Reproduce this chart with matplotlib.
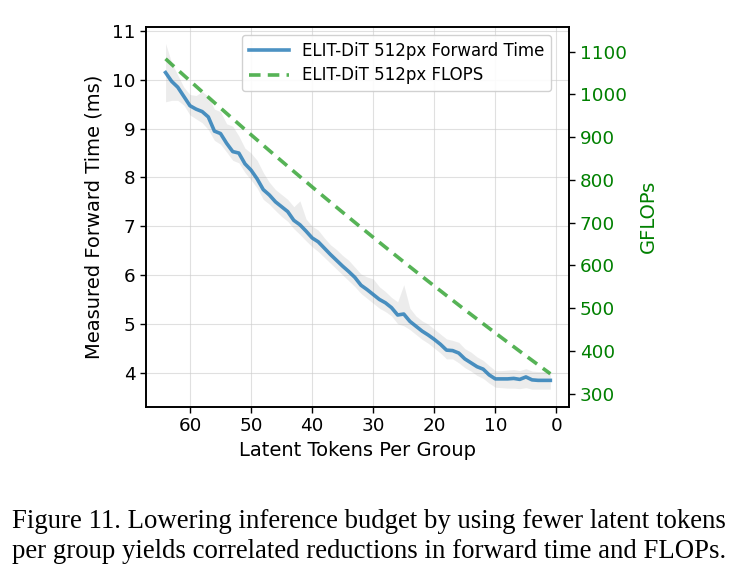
import numpy as np
import matplotlib
matplotlib.use("Agg")
import matplotlib.pyplot as plt

tokens = list(range(64, 0, -1))

forward_time = [10.15, 9.97, 9.85, 9.66, 9.47, 9.40, 9.35, 9.24, 8.95, 8.90,
                8.70, 8.53, 8.50, 8.28, 8.15, 7.97, 7.75, 7.64, 7.50, 7.40,
                7.30, 7.12, 7.03, 6.90, 6.76, 6.68, 6.55, 6.42, 6.30, 6.18,
                6.07, 5.95, 5.79, 5.70, 5.60, 5.50, 5.43, 5.33, 5.18, 5.20,
                5.05, 4.95, 4.85, 4.77, 4.68, 4.58, 4.46, 4.45, 4.40, 4.28,
                4.20, 4.12, 4.07, 3.95, 3.87, 3.87, 3.87, 3.88, 3.86, 3.91,
                3.85, 3.84, 3.84, 3.84]

time_upper = [10.75, 10.35, 10.10, 9.85, 9.70, 9.68, 9.76, 9.66, 9.40, 9.35,
              9.10, 9.05, 8.85, 8.60, 8.50, 8.35, 8.10, 7.90, 7.75, 7.65,
              7.55, 7.40, 7.52, 7.15, 7.00, 6.92, 6.76, 6.62, 6.52, 6.40,
              6.30, 6.16, 6.02, 5.96, 5.92, 5.76, 5.66, 5.54, 5.45, 5.80,
              5.32, 5.16, 5.06, 4.99, 4.89, 4.79, 4.69, 4.66, 4.62, 4.49,
              4.42, 4.32, 4.25, 4.14, 4.04, 4.04, 4.05, 4.06, 4.04, 4.08,
              4.03, 4.02, 4.02, 4.02]

time_lower = [9.55, 9.58, 9.58, 9.48, 9.28, 9.20, 9.12, 8.98, 8.76, 8.68,
              8.52, 8.35, 8.30, 8.10, 7.95, 7.78, 7.55, 7.45, 7.32, 7.20,
              7.10, 6.95, 6.83, 6.70, 6.58, 6.48, 6.36, 6.24, 6.12, 6.00,
              5.88, 5.76, 5.62, 5.52, 5.42, 5.32, 5.25, 5.16, 5.00, 4.96,
              4.88, 4.78, 4.68, 4.60, 4.50, 4.40, 4.28, 4.28, 4.20, 4.10,
              4.03, 3.94, 3.88, 3.78, 3.70, 3.69, 3.68, 3.68, 3.67, 3.69,
              3.66, 3.66, 3.66, 3.66]

gflops = [1083.0, 1070.0, 1057.1, 1044.3, 1031.5, 1018.7, 1006.0, 993.3, 980.6, 968.0,
          955.4, 942.9, 930.4, 917.9, 905.5, 893.2, 880.8, 868.5, 856.3, 844.1,
          831.9, 819.8, 807.7, 795.7, 783.6, 771.7, 759.7, 747.9, 736.0, 724.2,
          712.4, 700.7, 689.0, 677.4, 665.8, 654.2, 642.7, 631.2, 619.8, 608.4,
          597.0, 585.7, 574.4, 563.2, 552.0, 540.9, 529.7, 518.7, 507.6, 496.6,
          485.7, 474.8, 463.9, 453.1, 442.3, 431.5, 420.8, 410.2, 399.5, 388.9,
          378.4, 367.9, 357.4, 347.0]

left_ticks = [4, 5, 6, 7, 8, 9, 10, 11]
right_ticks = [300, 400, 500, 600, 700, 800, 900, 1000, 1100]
x_ticks = [60, 50, 40, 30, 20, 10, 0]

caption_lines = [
    "Figure 11. Lowering inference budget by using fewer latent tokens",
    "per group yields correlated reductions in forward time and FLOPs.",
]

fig = plt.figure(figsize=(7.4, 5.82), dpi=100)
ax = fig.add_axes([0.1973, 0.3012, 0.5720, 0.6529])
ax2 = ax.twinx()

ax.fill_between(tokens, time_lower, time_upper, color="#9a9a9a", alpha=0.18,
                linewidth=0)
l1, = ax.plot(tokens, forward_time, color="#1f77b4", alpha=0.8, lw=2.6,
              label="ELIT-DiT 512px Forward Time")
l2, = ax2.plot(tokens, gflops, color="#2ca02c", alpha=0.8, lw=2.6,
               linestyle=(0, (3.2, 2.0)), label="ELIT-DiT 512px FLOPS")

ax.set_xlim(67.2, -2.1)
ax.set_ylim(3.30, 11.09)
ax2.set_ylim(270, 1158)
ax.set_xticks(x_ticks)
ax.set_yticks(left_ticks)
ax2.set_yticks(right_ticks)

ax.grid(True, color="#cccccc", alpha=0.6, linewidth=0.8)
ax.set_axisbelow(True)

ax.tick_params(labelsize=13.2, length=4, width=1)
ax2.tick_params(labelsize=13.2, length=4, width=1, labelcolor="green")

ax.set_xlabel("Latent Tokens Per Group", fontsize=14, labelpad=4)
ax.set_ylabel("Measured Forward Time (ms)", fontsize=14, labelpad=6)
ax2.set_ylabel("GFLOPs", fontsize=14, color="green", labelpad=9)

for sp in list(ax.spines.values()) + list(ax2.spines.values()):
    sp.set_linewidth(1.2)
    sp.set_color("black")

ax2.legend(handles=[l1, l2], loc="upper right",
           bbox_to_anchor=(0.957, 0.978), borderaxespad=0, fontsize=12,
           framealpha=0.9, edgecolor="#cccccc", handlelength=2.4,
           labelspacing=0.4)

for i, line in enumerate(caption_lines):
    fig.text(0.016, 1 - (528 + 30 * i) / 582, line, fontsize=19.3,
             family="Liberation Serif", ha="left", va="baseline")

fig.savefig("out.png", dpi=100)
